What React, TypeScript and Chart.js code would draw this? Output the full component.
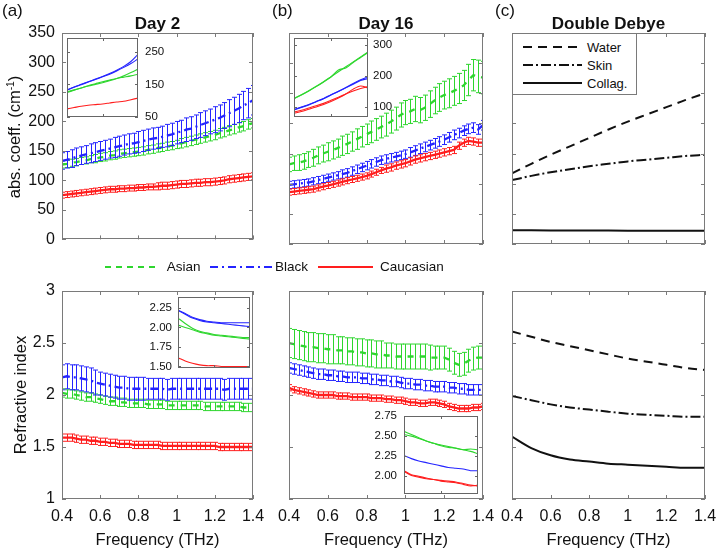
import React, { useEffect, useRef } from "react";
import { Chart, registerables } from "chart.js";
Chart.register(...registerables);

const FONT = "'Liberation Sans', Arial, Helvetica, sans-serif";
const GREEN = "#2ed62e";
const BLUE = "#2424ff";
const RED = "#ff1e1e";
const BLACK = "#111111";
const FRAME = "#7a7a7a";

// ---------------- data ----------------
const FREQ = [0.4, 0.425, 0.45, 0.475, 0.5, 0.525, 0.55, 0.575, 0.6, 0.625, 0.65, 0.675, 0.7, 0.725, 0.75, 0.775, 0.8, 0.825, 0.85, 0.875, 0.9, 0.925, 0.95, 0.975, 1.0, 1.025, 1.05, 1.075, 1.1, 1.125, 1.15, 1.175, 1.2, 1.225, 1.25, 1.275, 1.3, 1.325, 1.35, 1.375, 1.4];
const FREQ_MODEL = [0.4, 0.5, 0.6, 0.7, 0.8, 0.9, 1.0, 1.1, 1.2, 1.3, 1.4];

const X_TICKS = [0.4, 0.6, 0.8, 1.0, 1.2, 1.4];
const ABS_TICKS = [0, 50, 100, 150, 200, 250, 300, 350];
const RI_TICKS = [1, 1.5, 2, 2.5, 3];
const INSET_X_TICKS = [0.9];
const INS_ABS_D2_TICKS = [50, 150, 250];
const INS_ABS_D16_TICKS = [100, 200, 300];
const INS_RI_D2_TICKS = [1.5, 1.75, 2.0, 2.25];
const INS_RI_D16_TICKS = [2.0, 2.25, 2.5, 2.75];

// Day 2 absorption coefficient (cm^-1)
const ABS_D2_ASIAN = [127, 128, 130, 131, 133, 134, 136, 137, 139, 140, 142, 143, 145, 146, 147, 148, 149, 150, 152, 153, 155, 156, 158, 159, 161, 163, 165, 167, 169, 171, 173, 175, 177, 180, 182, 185, 187, 190, 192, 195, 197];
const ABS_D2_ASIAN_ERR = [6, 6, 6, 6, 6, 6, 6, 7, 7, 7, 7, 7, 7, 7, 7, 7, 7, 7, 7, 7, 7, 7, 7, 7, 7, 8, 8, 8, 8, 8, 8, 8, 8, 8, 8, 8, 8, 8, 8, 8, 8];
const ABS_D2_BLACK = [133, 135, 137, 140, 142, 144, 146, 148, 150, 152, 154, 156, 158, 160, 162, 163, 165, 167, 169, 171, 172, 174, 176, 178, 181, 183, 186, 188, 191, 194, 197, 200, 203, 206, 210, 214, 218, 222, 227, 231, 236];
const ABS_D2_BLACK_ERR = [14, 14, 15, 15, 15, 15, 16, 16, 16, 16, 16, 17, 17, 17, 17, 17, 18, 18, 18, 18, 18, 18, 19, 19, 19, 19, 20, 20, 20, 21, 21, 21, 22, 22, 22, 23, 23, 24, 24, 25, 25];
const ABS_D2_CAUC = [75, 76, 77, 78, 79, 80, 81, 82, 83, 84, 85, 85, 86, 86, 87, 87, 88, 88, 89, 89, 90, 91, 91, 92, 93, 94, 94, 95, 96, 96, 97, 97, 98, 99, 100, 102, 103, 104, 105, 106, 107];
const ABS_D2_CAUC_ERR = [5, 5, 5, 5, 5, 5, 5, 5, 5, 5, 5, 5, 5, 5, 5, 5, 5, 5, 5, 5, 6, 6, 6, 6, 6, 6, 6, 6, 6, 6, 6, 6, 6, 6, 6, 6, 6, 6, 6, 6, 6];

// Day 16 absorption coefficient (cm^-1)
const ABS_D16_ASIAN = [132, 134, 135, 137, 140, 143, 147, 150, 153, 156, 159, 163, 166, 170, 174, 178, 182, 186, 190, 194, 198, 203, 208, 214, 218, 220, 224, 222, 226, 232, 238, 243, 247, 250, 254, 258, 263, 272, 280, 278, 276];
const ABS_D16_ASIAN_ERR = [12, 12, 13, 13, 13, 14, 14, 14, 15, 15, 15, 16, 16, 16, 17, 17, 17, 18, 18, 18, 19, 19, 19, 20, 20, 20, 21, 21, 21, 22, 22, 23, 23, 24, 24, 25, 25, 26, 26, 27, 27];
const ABS_D16_BLACK = [98, 99, 100, 101, 102, 104, 106, 108, 110, 112, 114, 116, 118, 121, 124, 127, 130, 133, 136, 139, 141, 143, 145, 147, 149, 152, 155, 158, 161, 164, 167, 170, 173, 177, 181, 184, 188, 191, 193, 190, 197];
const ABS_D16_BLACK_ERR = [6, 6, 6, 6, 6, 6, 6, 6, 6, 6, 6, 7, 7, 7, 7, 7, 7, 7, 7, 7, 7, 7, 7, 7, 7, 8, 8, 8, 8, 8, 8, 8, 8, 8, 8, 8, 8, 8, 8, 8, 8];
const ABS_D16_CAUC = [86, 87, 88, 89, 90, 91, 93, 95, 97, 99, 101, 103, 105, 107, 109, 111, 113, 116, 119, 122, 125, 127, 130, 132, 134, 137, 140, 142, 144, 146, 148, 150, 152, 154, 156, 163, 168, 171, 170, 168, 168];
const ABS_D16_CAUC_ERR = [5, 5, 5, 5, 5, 5, 5, 5, 5, 5, 5, 5, 5, 5, 5, 5, 5, 5, 5, 5, 6, 6, 6, 6, 6, 6, 6, 6, 6, 6, 6, 6, 6, 6, 6, 6, 6, 6, 6, 6, 6];

// Day 2 refractive index
const RI_D2_ASIAN = [2.02, 2.01, 2.01, 2.0, 1.99, 1.98, 1.98, 1.97, 1.96, 1.95, 1.94, 1.94, 1.93, 1.93, 1.92, 1.92, 1.92, 1.92, 1.91, 1.91, 1.91, 1.91, 1.9, 1.9, 1.9, 1.9, 1.9, 1.9, 1.9, 1.9, 1.89, 1.89, 1.89, 1.89, 1.89, 1.89, 1.89, 1.89, 1.88, 1.88, 1.88];
const RI_D2_ASIAN_ERR = [0.04, 0.04, 0.04, 0.04, 0.04, 0.04, 0.04, 0.04, 0.04, 0.04, 0.04, 0.04, 0.04, 0.04, 0.04, 0.04, 0.04, 0.04, 0.04, 0.04, 0.04, 0.04, 0.04, 0.04, 0.04, 0.04, 0.04, 0.04, 0.04, 0.04, 0.04, 0.04, 0.04, 0.04, 0.04, 0.04, 0.04, 0.04, 0.04, 0.04, 0.04];
const RI_D2_BLACK = [2.17, 2.18, 2.17, 2.17, 2.16, 2.15, 2.14, 2.12, 2.11, 2.1, 2.09, 2.08, 2.07, 2.07, 2.06, 2.06, 2.06, 2.06, 2.06, 2.06, 2.06, 2.06, 2.05, 2.06, 2.06, 2.06, 2.06, 2.06, 2.06, 2.06, 2.06, 2.06, 2.06, 2.06, 2.05, 2.06, 2.06, 2.06, 2.06, 2.06, 2.06];
const RI_D2_BLACK_ERR = [0.12, 0.12, 0.12, 0.12, 0.12, 0.12, 0.12, 0.12, 0.11, 0.11, 0.11, 0.11, 0.11, 0.11, 0.11, 0.11, 0.11, 0.11, 0.1, 0.1, 0.1, 0.1, 0.1, 0.1, 0.1, 0.1, 0.1, 0.1, 0.1, 0.1, 0.1, 0.1, 0.1, 0.1, 0.1, 0.1, 0.1, 0.1, 0.1, 0.1, 0.1];
const RI_D2_CAUC = [1.59, 1.59, 1.59, 1.58, 1.57, 1.57, 1.56, 1.56, 1.55, 1.55, 1.54, 1.54, 1.53, 1.53, 1.53, 1.52, 1.52, 1.52, 1.52, 1.52, 1.52, 1.51, 1.51, 1.51, 1.51, 1.51, 1.51, 1.51, 1.51, 1.51, 1.51, 1.51, 1.51, 1.5, 1.5, 1.5, 1.5, 1.5, 1.5, 1.5, 1.5];
const RI_D2_CAUC_ERR = [0.035, 0.035, 0.035, 0.035, 0.035, 0.035, 0.035, 0.035, 0.035, 0.035, 0.035, 0.035, 0.035, 0.035, 0.035, 0.035, 0.035, 0.035, 0.035, 0.035, 0.035, 0.035, 0.035, 0.035, 0.035, 0.035, 0.035, 0.035, 0.035, 0.035, 0.035, 0.035, 0.035, 0.035, 0.035, 0.035, 0.035, 0.035, 0.035, 0.035, 0.035];

// Day 16 refractive index
const RI_D16_ASIAN = [2.5, 2.49, 2.48, 2.47, 2.46, 2.46, 2.45, 2.45, 2.44, 2.44, 2.43, 2.43, 2.42, 2.42, 2.41, 2.41, 2.4, 2.4, 2.39, 2.39, 2.38, 2.38, 2.37, 2.37, 2.37, 2.37, 2.37, 2.37, 2.37, 2.36, 2.36, 2.36, 2.36, 2.34, 2.31, 2.29, 2.3, 2.33, 2.35, 2.36, 2.36];
const RI_D16_ASIAN_ERR = [0.14, 0.14, 0.14, 0.14, 0.14, 0.14, 0.14, 0.14, 0.14, 0.14, 0.13, 0.13, 0.13, 0.13, 0.13, 0.13, 0.13, 0.13, 0.13, 0.13, 0.12, 0.12, 0.12, 0.12, 0.12, 0.12, 0.12, 0.12, 0.12, 0.12, 0.11, 0.11, 0.11, 0.11, 0.11, 0.11, 0.11, 0.11, 0.11, 0.11, 0.11];
const RI_D16_BLACK = [2.26, 2.25, 2.24, 2.23, 2.22, 2.21, 2.2, 2.2, 2.19, 2.19, 2.18, 2.18, 2.17, 2.17, 2.17, 2.16, 2.16, 2.15, 2.15, 2.14, 2.14, 2.13, 2.13, 2.12, 2.11, 2.11, 2.1, 2.1, 2.09, 2.09, 2.08, 2.08, 2.08, 2.07, 2.07, 2.06, 2.06, 2.05, 2.05, 2.05, 2.05];
const RI_D16_BLACK_ERR = [0.05, 0.05, 0.05, 0.05, 0.05, 0.05, 0.05, 0.05, 0.05, 0.05, 0.05, 0.05, 0.05, 0.05, 0.05, 0.05, 0.05, 0.05, 0.05, 0.05, 0.05, 0.05, 0.05, 0.05, 0.05, 0.05, 0.05, 0.05, 0.05, 0.05, 0.05, 0.05, 0.05, 0.05, 0.05, 0.05, 0.05, 0.05, 0.05, 0.05, 0.05];
const RI_D16_CAUC = [2.07, 2.05, 2.04, 2.03, 2.02, 2.01, 2.0, 2.0, 2.0, 2.0, 1.99, 1.99, 1.99, 1.98, 1.98, 1.98, 1.98, 1.97, 1.97, 1.97, 1.96, 1.96, 1.95, 1.95, 1.94, 1.93, 1.93, 1.92, 1.92, 1.93, 1.93, 1.92, 1.91, 1.89, 1.88, 1.87, 1.87, 1.87, 1.88, 1.88, 1.89];
const RI_D16_CAUC_ERR = [0.03, 0.03, 0.03, 0.03, 0.03, 0.03, 0.03, 0.03, 0.03, 0.03, 0.03, 0.03, 0.03, 0.03, 0.03, 0.03, 0.03, 0.03, 0.03, 0.03, 0.03, 0.03, 0.03, 0.03, 0.03, 0.03, 0.03, 0.03, 0.03, 0.03, 0.03, 0.03, 0.03, 0.03, 0.03, 0.03, 0.03, 0.03, 0.03, 0.03, 0.03];

// Double Debye model
const ABS_WATER = [117, 133, 148, 162, 176, 190, 203, 215, 227, 239, 250];
const ABS_SKIN = [106, 113, 119, 124, 129, 133, 137, 140, 143, 146, 148];
const ABS_COLLAG = [23, 22.8, 22.6, 22.4, 22.3, 22.2, 22.1, 22, 22, 21.9, 21.9];
const RI_WATER = [2.61, 2.56, 2.51, 2.47, 2.43, 2.39, 2.35, 2.32, 2.29, 2.26, 2.24];
const RI_SKIN = [1.99, 1.95, 1.91, 1.88, 1.86, 1.84, 1.82, 1.81, 1.8, 1.79, 1.79];
const RI_COLLAG = [1.6, 1.49, 1.42, 1.38, 1.36, 1.34, 1.33, 1.32, 1.31, 1.3, 1.3];

// Insets
const INS_D2_ASIAN_A = [127, 133, 139, 145, 150, 155, 161, 168, 176, 186, 197];
const INS_D2_ASIAN_B = [125, 132, 139, 146, 152, 158, 163, 168, 172, 176, 181];
const INS_D2_BLACK_A = [133, 142, 150, 158, 166, 174, 183, 193, 205, 220, 242];
const INS_D2_BLACK_B = [132, 141, 149, 157, 165, 173, 181, 191, 202, 214, 228];
const INS_D2_CAUC = [75, 79, 83, 86, 88, 90, 93, 96, 98, 103, 108];

const INS_D16_ASIAN_A = [128, 140, 153, 167, 182, 198, 214, 230, 246, 262, 278];
const INS_D16_ASIAN_B = [127, 139, 152, 166, 181, 197, 220, 226, 244, 260, 276];
const INS_D16_BLACK_A = [92, 100, 108, 118, 128, 140, 151, 163, 176, 188, 198];
const INS_D16_BLACK_B = [91, 99, 107, 117, 127, 139, 150, 162, 174, 186, 192];
const INS_D16_CAUC_A = [84, 90, 97, 104, 112, 122, 132, 142, 152, 160, 166];
const INS_D16_CAUC_B = [80, 86, 93, 100, 108, 118, 129, 142, 158, 168, 162];

const INS_RI_D2_BLACK_A = [2.22, 2.18, 2.13, 2.1, 2.08, 2.07, 2.06, 2.06, 2.06, 2.06, 2.06];
const INS_RI_D2_BLACK_B = [2.22, 2.17, 2.12, 2.09, 2.07, 2.06, 2.05, 2.04, 2.03, 2.02, 2.01];
const INS_RI_D2_ASIAN_A = [2.12, 2.05, 1.99, 1.95, 1.93, 1.91, 1.9, 1.89, 1.88, 1.87, 1.87];
const INS_RI_D2_ASIAN_B = [2.03, 2.0, 1.97, 1.94, 1.92, 1.9, 1.89, 1.88, 1.87, 1.86, 1.85];
const INS_RI_D2_CAUC = [1.61, 1.57, 1.54, 1.52, 1.51, 1.51, 1.5, 1.5, 1.5, 1.5, 1.5];

const INS_RI_D16_ASIAN_A = [2.56, 2.52, 2.48, 2.44, 2.41, 2.38, 2.36, 2.35, 2.33, 2.31, 2.28];
const INS_RI_D16_ASIAN_B = [2.52, 2.5, 2.47, 2.44, 2.41, 2.39, 2.37, 2.35, 2.33, 2.34, 2.33];
const INS_RI_D16_BLACK = [2.26, 2.22, 2.19, 2.17, 2.15, 2.13, 2.11, 2.1, 2.09, 2.07, 2.07];
const INS_RI_D16_CAUC_A = [2.07, 2.02, 2.0, 1.98, 1.96, 1.95, 1.94, 1.93, 1.91, 1.89, 1.88];
const INS_RI_D16_CAUC_B = [2.06, 2.01, 1.99, 1.97, 1.96, 1.94, 1.93, 1.92, 1.9, 1.88, 1.89];

// ---------------- styles ----------------
const DASH_ASIAN = [6, 6];
const DASH_BLACK = [8, 4, 2, 4];
const DASH_WATER = [9, 6];
const DASH_SKIN = [10, 3, 2, 3];

const mean = (ys: number[], err: number[], color: string, dash: number[], order: number) => ({
  data: ys.map((y, i) => ({ x: FREQ[i], y })),
  errors: err,
  order,
  borderColor: color,
  borderWidth: 2.3,
  borderDash: dash,
  pointRadius: 0,
  fill: false,
  tension: 0,
});
const model = (ys: number[], dash: number[]) => ({
  data: ys.map((y, i) => ({ x: FREQ_MODEL[i], y })),
  borderColor: BLACK,
  borderWidth: 2,
  borderDash: dash,
  pointRadius: 0,
  fill: false,
  cubicInterpolationMode: "monotone",
});
const thin = (ys: number[], color: string) => ({
  data: ys.map((y, i) => ({ x: FREQ_MODEL[i], y })),
  borderColor: color,
  borderWidth: 1.1,
  pointRadius: 0,
  fill: false,
  tension: 0.3,
});

const framePlugin = {
  id: "frame",
  beforeDraw(chart: any, _a: any, opts: any) {
    if (!opts.fill) return;
    const { ctx, chartArea: a } = chart;
    ctx.save();
    ctx.fillStyle = opts.fill;
    ctx.fillRect(a.left, a.top, a.right - a.left, a.bottom - a.top);
    ctx.restore();
  },
  beforeDatasetDraw(chart: any, args: any) {
    const ds = chart.data.datasets[args.index];
    if (!ds || !ds.errors) return;
    const { ctx, chartArea: a } = chart;
    const ys = chart.scales.y;
    const meta = args.meta;
    ctx.save();
    ctx.beginPath();
    ctx.rect(a.left, a.top, a.right - a.left, a.bottom - a.top);
    ctx.clip();
    ctx.strokeStyle = ds.borderColor;
    ctx.lineWidth = 1;
    ctx.setLineDash([]);
    ctx.beginPath();
    meta.data.forEach((pt: any, j: number) => {
      const v = ds.data[j].y;
      const e = ds.errors[j];
      const x = Math.round(pt.x) + 0.5;
      const y1 = ys.getPixelForValue(v + e);
      const y2 = ys.getPixelForValue(v - e);
      ctx.moveTo(x, y1);
      ctx.lineTo(x, y2);
      ctx.moveTo(x - 2.5, y1);
      ctx.lineTo(x + 2.5, y1);
      ctx.moveTo(x - 2.5, y2);
      ctx.lineTo(x + 2.5, y2);
    });
    ctx.stroke();
    ctx.restore();
  },
  afterDraw(chart: any, _a: any, opts: any) {
    const { ctx, chartArea: a, scales } = chart;
    const L = opts.len;
    ctx.save();
    ctx.strokeStyle = opts.color;
    ctx.lineWidth = 1;
    ctx.setLineDash([]);
    ctx.beginPath();
    (opts.xTicks || []).forEach((v: number) => {
      const x = Math.round(scales.x.getPixelForValue(v)) + 0.5;
      ctx.moveTo(x, a.bottom);
      ctx.lineTo(x, a.bottom - L);
      ctx.moveTo(x, a.top);
      ctx.lineTo(x, a.top + L);
    });
    (opts.yTicks || []).forEach((v: number) => {
      const y = Math.round(scales.y.getPixelForValue(v)) + 0.5;
      ctx.moveTo(a.left, y);
      ctx.lineTo(a.left + L, y);
      ctx.moveTo(a.right, y);
      ctx.lineTo(a.right - L, y);
    });
    ctx.stroke();
    ctx.strokeRect(Math.round(a.left) + 0.5, Math.round(a.top) + 0.5, Math.round(a.right - a.left) - 1, Math.round(a.bottom - a.top) - 1);
    ctx.restore();
  },
};

type Spec = {
  area: [number, number, number, number];
  m: [number, number, number, number];
  yRight?: boolean;
  x: [number, number];
  y: [number, number];
  xTicks: number[];
  yTicks: number[];
  frameX: number[];
  xLabels: boolean;
  yLabels: boolean;
  xPad: number;
  yPad: number;
  font: number;
  yFmt: (v: number) => string;
  tickLen: number;
  inset?: boolean;
  datasets: any[];
};

const fmtInt = (v: number) => String(v);
const fmt2 = (v: number) => v.toFixed(2);
const fmtX = (v: number) => String(Number(v.toFixed(2)));

const MAIN_TOP_M: [number, number, number, number] = [22, 18, 22, 12];
const MAIN_BOT_M: [number, number, number, number] = [22, 18, 22, 32];

const SPECS: Spec[] = [
  // (a) top
  { area: [62, 33, 253, 244], m: [62, 18, 22, 12], x: [0.4, 1.4], y: [0, 350], xTicks: X_TICKS, yTicks: ABS_TICKS, frameX: X_TICKS, xLabels: false, yLabels: true, xPad: 8, yPad: 7, font: 16, yFmt: fmtInt, tickLen: 4,
    datasets: [mean(ABS_D2_ASIAN, ABS_D2_ASIAN_ERR, GREEN, DASH_ASIAN, 3), mean(ABS_D2_BLACK, ABS_D2_BLACK_ERR, BLUE, DASH_BLACK, 2), mean(ABS_D2_CAUC, ABS_D2_CAUC_ERR, RED, [], 1)] },
  // (b) top
  { area: [289, 33, 483, 244], m: MAIN_TOP_M, x: [0.4, 1.4], y: [0, 350], xTicks: X_TICKS, yTicks: ABS_TICKS, frameX: X_TICKS, xLabels: false, yLabels: false, xPad: 8, yPad: 7, font: 16, yFmt: fmtInt, tickLen: 4,
    datasets: [mean(ABS_D16_ASIAN, ABS_D16_ASIAN_ERR, GREEN, DASH_ASIAN, 3), mean(ABS_D16_BLACK, ABS_D16_BLACK_ERR, BLUE, DASH_BLACK, 2), mean(ABS_D16_CAUC, ABS_D16_CAUC_ERR, RED, [], 1)] },
  // (c) top
  { area: [512, 33, 705, 244], m: [22, 18, 13, 12], x: [0.4, 1.4], y: [0, 350], xTicks: X_TICKS, yTicks: ABS_TICKS, frameX: X_TICKS, xLabels: false, yLabels: false, xPad: 8, yPad: 7, font: 16, yFmt: fmtInt, tickLen: 4,
    datasets: [model(ABS_WATER, DASH_WATER), model(ABS_SKIN, DASH_SKIN), model(ABS_COLLAG, [])] },
  // (a) bottom
  { area: [62, 291, 253, 499], m: [62, 18, 22, 32], x: [0.4, 1.4], y: [1, 3], xTicks: X_TICKS, yTicks: RI_TICKS, frameX: X_TICKS, xLabels: true, yLabels: true, xPad: 8, yPad: 7, font: 16, yFmt: fmtInt, tickLen: 4,
    datasets: [mean(RI_D2_ASIAN, RI_D2_ASIAN_ERR, GREEN, DASH_ASIAN, 3), mean(RI_D2_BLACK, RI_D2_BLACK_ERR, BLUE, DASH_BLACK, 2), mean(RI_D2_CAUC, RI_D2_CAUC_ERR, RED, [], 1)] },
  // (b) bottom
  { area: [289, 291, 483, 499], m: MAIN_BOT_M, x: [0.4, 1.4], y: [1, 3], xTicks: X_TICKS, yTicks: RI_TICKS, frameX: X_TICKS, xLabels: true, yLabels: false, xPad: 8, yPad: 7, font: 16, yFmt: fmtInt, tickLen: 4,
    datasets: [mean(RI_D16_ASIAN, RI_D16_ASIAN_ERR, GREEN, DASH_ASIAN, 3), mean(RI_D16_BLACK, RI_D16_BLACK_ERR, BLUE, DASH_BLACK, 2), mean(RI_D16_CAUC, RI_D16_CAUC_ERR, RED, [], 1)] },
  // (c) bottom
  { area: [512, 291, 705, 499], m: [22, 18, 20, 32], x: [0.4, 1.4], y: [1, 3], xTicks: X_TICKS, yTicks: RI_TICKS, frameX: X_TICKS, xLabels: true, yLabels: false, xPad: 8, yPad: 7, font: 16, yFmt: fmtInt, tickLen: 4,
    datasets: [model(RI_WATER, DASH_WATER), model(RI_SKIN, DASH_SKIN), model(RI_COLLAG, [])] },
  // inset (a) top
  { area: [67, 38, 138, 117], m: [14, 16, 34, 16], yRight: true, x: [0.4, 1.4], y: [50, 292], xTicks: INSET_X_TICKS, yTicks: INS_ABS_D2_TICKS, frameX: INSET_X_TICKS, xLabels: false, yLabels: true, xPad: 0, yPad: 7, font: 11.5, yFmt: fmtInt, tickLen: 3, inset: true,
    datasets: [thin(INS_D2_BLACK_A, BLUE), thin(INS_D2_BLACK_B, BLUE), thin(INS_D2_ASIAN_A, GREEN), thin(INS_D2_ASIAN_B, GREEN), thin(INS_D2_CAUC, RED)] },
  // inset (b) top
  { area: [294, 38, 368, 117], m: [14, 16, 34, 16], yRight: true, x: [0.4, 1.4], y: [68, 323], xTicks: INSET_X_TICKS, yTicks: INS_ABS_D16_TICKS, frameX: INSET_X_TICKS, xLabels: false, yLabels: true, xPad: 0, yPad: 5, font: 11.5, yFmt: fmtInt, tickLen: 3, inset: true,
    datasets: [thin(INS_D16_ASIAN_A, GREEN), thin(INS_D16_ASIAN_B, GREEN), thin(INS_D16_BLACK_A, BLUE), thin(INS_D16_BLACK_B, BLUE), thin(INS_D16_CAUC_A, RED), thin(INS_D16_CAUC_B, RED)] },
  // inset (a) bottom
  { area: [178, 297, 250, 368], m: [36, 16, 8, 16], x: [0.4, 1.4], y: [1.48, 2.39], xTicks: INSET_X_TICKS, yTicks: INS_RI_D2_TICKS, frameX: INSET_X_TICKS, xLabels: false, yLabels: true, xPad: 0, yPad: 6, font: 11.5, yFmt: fmt2, tickLen: 3, inset: true,
    datasets: [thin(INS_RI_D2_BLACK_A, BLUE), thin(INS_RI_D2_BLACK_B, BLUE), thin(INS_RI_D2_ASIAN_A, GREEN), thin(INS_RI_D2_ASIAN_B, GREEN), thin(INS_RI_D2_CAUC, RED)] },
  // inset (b) bottom
  { area: [404, 416, 478, 494], m: [38, 16, 8, 16], x: [0.4, 1.4], y: [1.78, 2.75], xTicks: INSET_X_TICKS, yTicks: INS_RI_D16_TICKS, frameX: INSET_X_TICKS, xLabels: false, yLabels: true, xPad: 0, yPad: 7, font: 11.5, yFmt: fmt2, tickLen: 3, inset: true,
    datasets: [thin(INS_RI_D16_ASIAN_A, GREEN), thin(INS_RI_D16_ASIAN_B, GREEN), thin(INS_RI_D16_BLACK, BLUE), thin(INS_RI_D16_CAUC_A, RED), thin(INS_RI_D16_CAUC_B, RED)] },
];

function canvasBox(s: Spec) {
  const [x0, y0, x1, y1] = s.area;
  const [l, t, r, b] = s.m;
  return { left: x0 - l, top: y0 - t, width: x1 - x0 + l + r, height: y1 - y0 + t + b };
}

function buildConfig(s: Spec): any {
  const [l, t, r, b] = s.m;
  const tickFont = { family: FONT, size: s.font };
  return {
    type: "line",
    data: { datasets: s.datasets },
    options: {
      responsive: false,
      animation: false,
      devicePixelRatio: 1,
      events: [],
      layout: { padding: s.yRight ? { left: l, top: t, right: 0, bottom: 0 } : { left: 0, top: t, right: r, bottom: 0 } },
      plugins: {
        legend: { display: false },
        tooltip: { enabled: false },
        frame: { xTicks: s.frameX, yTicks: s.yTicks, len: s.tickLen, fill: s.inset ? "#ffffff" : null, color: s.inset ? "#666666" : FRAME },
      },
      scales: {
        x: {
          type: "linear",
          position: "bottom",
          min: s.x[0],
          max: s.x[1],
          grid: { display: false, drawTicks: false },
          border: { display: false },
          ticks: { display: s.xLabels, padding: s.xPad, autoSkip: false, maxRotation: 0, minRotation: 0, color: "#111", font: tickFont, callback: (v: number) => fmtX(v) },
          afterBuildTicks: (sc: any) => { sc.ticks = s.xTicks.map((v) => ({ value: v })); },
          afterFit: (sc: any) => { sc.height = b; },
        },
        y: {
          type: "linear",
          position: s.yRight ? "right" : "left",
          min: s.y[0],
          max: s.y[1],
          grid: { display: false, drawTicks: false },
          border: { display: false },
          ticks: { display: s.yLabels, padding: s.yPad, autoSkip: false, color: "#111", font: tickFont, callback: (v: number) => s.yFmt(v) },
          afterBuildTicks: (sc: any) => { sc.ticks = s.yTicks.map((v) => ({ value: v })); },
          afterFit: (sc: any) => { sc.width = s.yRight ? r : l; },
        },
      },
    },
    plugins: [framePlugin],
  };
}

function Txt(props: { x: number; y: number; size: number; bold?: boolean; center?: boolean; children: any }) {
  const { x, y, size, bold, center, children } = props;
  const style: any = {
    position: "absolute",
    left: x,
    top: y - 0.8465 * size,
    fontSize: size,
    lineHeight: `${size}px`,
    fontWeight: bold ? "bold" : "normal",
    whiteSpace: "nowrap",
    color: "#111",
  };
  if (center) style.transform = "translateX(-50%)";
  return <div style={style}>{children}</div>;
}

function VTxt(props: { cx: number; cy: number; size: number; children: any }) {
  const { cx, cy, size, children } = props;
  return (
    <div style={{ position: "absolute", left: cx, top: cy, fontSize: size, lineHeight: `${size}px`, whiteSpace: "nowrap", color: "#111", transform: "translate(-50%,-50%) rotate(-90deg)" }}>
      {children}
    </div>
  );
}

export default function App() {
  const refs = useRef<(HTMLCanvasElement | null)[]>([]);
  useEffect(() => {
    const charts = SPECS.map((s, i) => new Chart(refs.current[i] as HTMLCanvasElement, buildConfig(s)));
    return () => charts.forEach((c) => c.destroy());
  }, []);

  const TITLE = 17;
  const AX = 16.5;
  const LEG = 13.5;
  return (
    <div style={{ position: "absolute", left: 0, top: 0, width: 718, height: 552, overflow: "hidden", background: "#fff", fontFamily: FONT }}>
      {SPECS.map((s, i) => {
        const bx = canvasBox(s);
        return (
          <canvas
            key={i}
            ref={(el) => { refs.current[i] = el; }}
            width={bx.width}
            height={bx.height}
            style={{ position: "absolute", left: bx.left, top: bx.top, width: bx.width, height: bx.height }}
          />
        );
      })}

      {/* legend box inside (c) */}
      <div style={{ position: "absolute", left: 512, top: 33, width: 125, height: 62, boxSizing: "border-box", border: `1px solid ${FRAME}`, background: "#fff" }} />

      <svg width={718} height={552} style={{ position: "absolute", left: 0, top: 0, pointerEvents: "none" }}>
        <line x1={105} y1={267} x2={157} y2={267} stroke={GREEN} strokeWidth={1.8} strokeDasharray="6 5" />
        <line x1={210} y1={267} x2={272} y2={267} stroke={BLUE} strokeWidth={1.8} strokeDasharray={DASH_BLACK.join(" ")} />
        <line x1={318} y1={267} x2={373} y2={267} stroke={RED} strokeWidth={1.8} />
        <line x1={523} y1={47} x2={582} y2={47} stroke={BLACK} strokeWidth={2} strokeDasharray={DASH_WATER.join(" ")} />
        <line x1={523} y1={65} x2={582} y2={65} stroke={BLACK} strokeWidth={2} strokeDasharray={DASH_SKIN.join(" ")} />
        <line x1={523} y1={83} x2={582} y2={83} stroke={BLACK} strokeWidth={2} />
      </svg>

      <Txt x={587} y={51.7} size={13}>Water</Txt>
      <Txt x={587} y={69.7} size={13}>Skin</Txt>
      <Txt x={587} y={87.7} size={13}>Collag.</Txt>

      <Txt x={166.7} y={271.7} size={LEG}>Asian</Txt>
      <Txt x={275} y={271.7} size={LEG}>Black</Txt>
      <Txt x={380} y={271.7} size={LEG}>Caucasian</Txt>

      <Txt x={2} y={16.5} size={TITLE}>(a)</Txt>
      <Txt x={272} y={16.5} size={TITLE}>(b)</Txt>
      <Txt x={495} y={16.5} size={TITLE}>(c)</Txt>

      <Txt x={157.5} y={29} size={TITLE} bold center>Day 2</Txt>
      <Txt x={386} y={29} size={TITLE} bold center>Day 16</Txt>
      <Txt x={608.5} y={29} size={TITLE} bold center>Double Debye</Txt>

      <VTxt cx={16} cy={137} size={AX}>
        abs. coeff. (cm<span style={{ fontSize: "0.62em", position: "relative", top: "-0.55em" }}>-1</span>)
      </VTxt>
      <VTxt cx={19.5} cy={395} size={AX}>Refractive index</VTxt>

      <Txt x={157.5} y={544.5} size={AX} center>Frequency (THz)</Txt>
      <Txt x={386} y={544.5} size={AX} center>Frequency (THz)</Txt>
      <Txt x={608.5} y={544.5} size={AX} center>Frequency (THz)</Txt>
    </div>
  );
}
